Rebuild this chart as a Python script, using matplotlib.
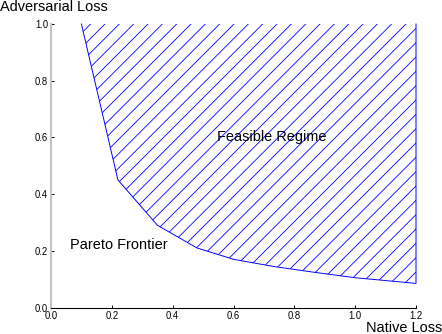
import matplotlib
matplotlib.use("Agg")
import matplotlib.pyplot as plt

native_loss = [0.10, 0.22, 0.35, 0.48, 0.60, 0.73, 0.86, 1.00, 1.20]
adv_loss = [1.00, 0.45, 0.29, 0.21, 0.17, 0.145, 0.125, 0.105, 0.085]

x_ticks = [0.0, 0.2, 0.4, 0.6, 0.8, 1.0, 1.2]
y_ticks = [0.0, 0.2, 0.4, 0.6, 0.8, 1.0]

plt.rcParams['font.family'] = ['Liberation Sans', 'DejaVu Sans']
plt.rcParams['hatch.linewidth'] = 0.7

dpi = 86
fig = plt.figure(figsize=(442 / dpi, 334 / dpi), dpi=dpi)
ax = fig.add_axes([51 / 442, 26.5 / 334, 365 / 442, 283.5 / 334])

# feasible region above the frontier
ax.fill_between(native_loss, adv_loss, 1.0, facecolor='none', edgecolor='blue',
                linewidth=0, hatch='//')
ax.plot(native_loss + [native_loss[-1]], adv_loss + [1.0], color='blue', linewidth=0.8,
        clip_on=False)

ax.set_xlim(0, 1.2)
ax.set_ylim(0, 1.0)
ax.set_xticks(x_ticks)
ax.set_yticks(y_ticks)

ax.spines['top'].set_visible(False)
ax.spines['right'].set_visible(False)
ax.spines['left'].set_color('#c4c4c4')
ax.spines['left'].set_linewidth(1.8)
ax.spines['bottom'].set_color('black')
ax.spines['bottom'].set_linewidth(0.9)

ax.tick_params(axis='both', direction='in', length=2.5, width=0.8, labelsize=8, pad=2.5)
ax.tick_params(axis='x', pad=3)

ax.text(0.545, 0.588, 'Feasible Regime', fontsize=12.2, ha='left', va='baseline')
ax.text(0.0625, 0.206, 'Pareto Frontier', fontsize=12.2, ha='left', va='baseline')

fig.text(0.0, (334 - 11) / 334, 'Adversarial Loss', fontsize=12.2, ha='left', va='baseline')
fig.text(366 / 442, 2.3 / 334, 'Native Loss', fontsize=12.2, ha='left', va='baseline')

fig.savefig('out.png', dpi=dpi)
